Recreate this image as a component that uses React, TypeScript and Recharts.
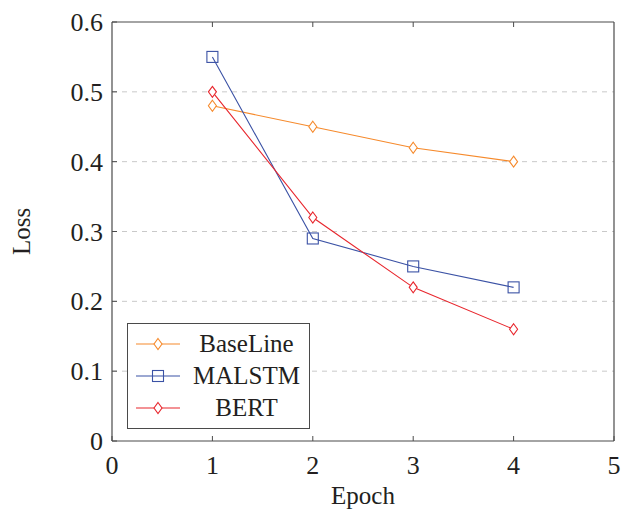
import { CartesianGrid, Line, LineChart, XAxis, YAxis } from "recharts";

const epochs = [1, 2, 3, 4];
const baseline = [0.48, 0.45, 0.42, 0.4];
const malstm = [0.55, 0.29, 0.25, 0.22];
const bert = [0.5, 0.32, 0.22, 0.16];
const xTicks = [0, 1, 2, 3, 4, 5];
const yTicks = [0, 0.1, 0.2, 0.3, 0.4, 0.5, 0.6];

const data = epochs.map((e, i) => ({ epoch: e, baseline: baseline[i], malstm: malstm[i], bert: bert[i] }));

const C = {
  orange: "#F68A2C",
  blue: "#3B52A5",
  red: "#E8262D",
  ink: "#231F20",
  frame: "#4a4a4a",
  grid: "#c9c9c9",
};
const FONT = "Liberation Serif, Times New Roman, serif";

const Diamond = ({ cx, cy, color }: any) =>
  cx == null ? null : (
    <path d={`M${cx},${cy - 5.5} L${cx + 4},${cy} L${cx},${cy + 5.5} L${cx - 4},${cy} Z`} fill="#fff" stroke={color} strokeWidth={1.1} />
  );
const Square = ({ cx, cy, color }: any) =>
  cx == null ? null : <rect x={cx - 5.5} y={cy - 5.5} width={11} height={11} fill="none" stroke={color} strokeWidth={1.1} />;

const series = [
  { key: "baseline", name: "BaseLine", color: C.orange, shape: "diamond" },
  { key: "malstm", name: "MALSTM", color: C.blue, shape: "square" },
  { key: "bert", name: "BERT", color: C.red, shape: "diamond" },
];

const BottomTick = ({ x, y, payload }: any) => (
  <g>
    <line x1={x} y1={y} x2={x} y2={y - 5} stroke={C.frame} />
    <text x={x} y={y + 33} textAnchor="middle" fontSize={26} fill={C.ink} style={{ fontFamily: FONT }}>{payload.value}</text>
  </g>
);
const TopTick = ({ x, y }: any) => <line x1={x} y1={y} x2={x} y2={y + 5} stroke={C.frame} />;
const LeftTick = ({ x, y, payload }: any) => (
  <g>
    <line x1={x} y1={y} x2={x + 5} y2={y} stroke={C.frame} />
    <text x={x - 9} y={y + 9} textAnchor="end" fontSize={26} fill={C.ink} style={{ fontFamily: FONT }}>{payload.value}</text>
  </g>
);
const RightTick = ({ x, y }: any) => <line x1={x} y1={y} x2={x - 5} y2={y} stroke={C.frame} />;

const LegendBox = () => (
  <div
    style={{
      position: "absolute",
      left: 127,
      top: 323,
      border: `1px solid ${C.frame}`,
      background: "#fff",
      width: 181,
      padding: "4px 0",
      fontFamily: FONT,
      fontSize: 25,
      color: C.ink,
    }}
  >
    {series.map((s) => (
      <div key={s.key} style={{ display: "flex", alignItems: "center", height: 32 }}>
        <svg width={52} height={20} style={{ marginLeft: 8, flex: "none" }}>
          <line x1={0} y1={10} x2={44} y2={10} stroke={s.color} strokeWidth={1.1} />
          {s.shape === "square" ? <Square cx={22} cy={10} color={s.color} /> : <Diamond cx={22} cy={10} color={s.color} />}
        </svg>
        <span style={{ flex: 1, textAlign: "center", marginRight: 4 }}>{s.name}</span>
      </div>
    ))}
  </div>
);

export default function App() {
  return (
    <div style={{ position: "absolute", left: 0, top: 0, width: 621, height: 509, background: "#fff" }}>
      <LineChart width={621} height={509} data={data} margin={{ top: 0, right: 0, bottom: 0, left: 0 }}>
        <CartesianGrid stroke={C.grid} strokeDasharray="5 5" vertical={false} horizontalValues={[0.1, 0.2, 0.3, 0.4, 0.5]} yAxisId="l" xAxisId="b" />
        <XAxis
          dataKey="epoch"
          type="number"
          domain={[0, 5]}
          ticks={xTicks}
          xAxisId="b"
          height={68}
          tickSize={0}
          tickMargin={0}
          tickLine={false}
          axisLine={{ stroke: C.frame, strokeWidth: 1.2 }}
          tick={<BottomTick />}
          interval={0}
          label={{
            value: "Epoch",
            content: ({ viewBox }: any) => (
              <text x={viewBox.x + viewBox.width / 2} y={viewBox.y + 63} textAnchor="middle" fontSize={25} fill={C.ink} style={{ fontFamily: FONT }}>
                Epoch
              </text>
            ),
          }}
        />
        <XAxis
          dataKey="epoch"
          type="number"
          domain={[0, 5]}
          ticks={[1, 2, 3, 4]}
          xAxisId="t"
          orientation="top"
          height={22}
          tickSize={0}
          tickMargin={0}
          tickLine={false}
          axisLine={{ stroke: C.frame, strokeWidth: 1.2 }}
          tick={<TopTick />}
          interval={0}
        />
        <YAxis
          yAxisId="l"
          type="number"
          domain={[0, 0.6]}
          ticks={yTicks}
          width={112}
          tickSize={0}
          tickMargin={0}
          tickLine={false}
          axisLine={{ stroke: C.frame, strokeWidth: 1.2 }}
          tick={<LeftTick />}
          interval={0}
          label={{
            value: "Loss",
            content: ({ viewBox }: any) => (
              <text x={0} y={0} transform={`translate(30, ${viewBox.y + viewBox.height / 2}) rotate(-90)`} textAnchor="middle" fontSize={25} fill={C.ink} style={{ fontFamily: FONT }}>
                Loss
              </text>
            ),
          }}
        />
        <YAxis
          yAxisId="r"
          orientation="right"
          type="number"
          domain={[0, 0.6]}
          ticks={[0.1, 0.2, 0.3, 0.4, 0.5]}
          width={7}
          tickSize={0}
          tickMargin={0}
          tickLine={false}
          axisLine={{ stroke: C.frame, strokeWidth: 1.2 }}
          tick={<RightTick />}
          interval={0}
        />
        {series.map((s) => (
          <Line
            key={s.key}
            xAxisId="b"
            yAxisId="l"
            dataKey={s.key}
            name={s.name}
            stroke={s.color}
            strokeWidth={1.1}
            type="linear"
            isAnimationActive={false}
            dot={s.shape === "square" ? <Square color={s.color} /> : <Diamond color={s.color} />}
            activeDot={false}
          />
        ))}
      </LineChart>
      <LegendBox />
    </div>
  );
}
